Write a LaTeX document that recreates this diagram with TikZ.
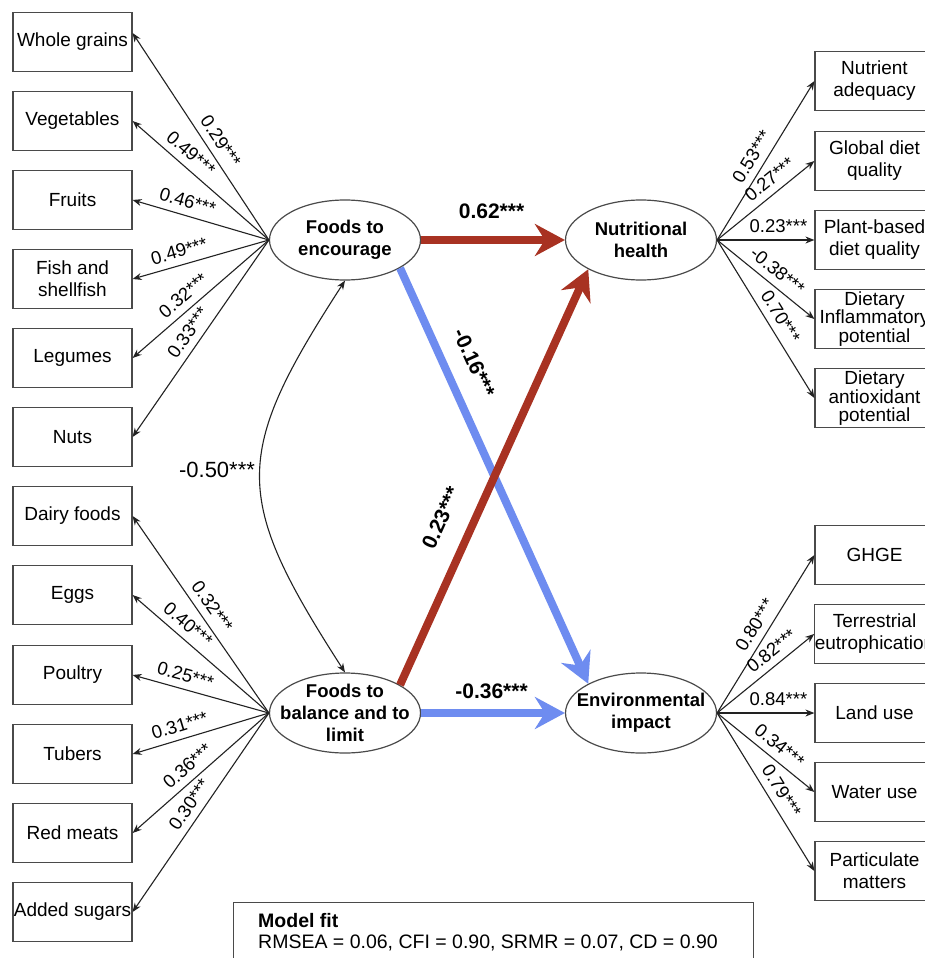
\documentclass[tikz,border=0pt]{standalone}
\usepackage{fontspec}
\setmainfont{Liberation Sans}
\usetikzlibrary{arrows.meta,shapes.geometric}
\definecolor{pathred}{HTML}{A83222}
\definecolor{pathblue}{HTML}{6E8CF0}
\definecolor{edgegray}{HTML}{222222}
\definecolor{boxgray}{HTML}{4A4A4A}
\begin{document}
\begin{tikzpicture}[x=1pt,y=-1pt,
  obs/.style={draw=boxgray, line width=1.2pt, rectangle, minimum width=119pt, minimum height=59pt, inner sep=0pt, align=center, font=\fontsize{19}{22}\selectfont},
  tightobs/.style={obs, font=\fontsize{19}{17.5}\selectfont},
  lat/.style={draw=boxgray, line width=1.2pt, ellipse, minimum width=151pt, minimum height=80pt, inner sep=0pt},
  lattext/.style={align=center, font=\bfseries\fontsize{18.5}{22}\selectfont, inner sep=0pt},
  load/.style={draw=edgegray, line width=1.1pt, -{Stealth[length=9pt,width=7pt]}},
  coef/.style={font=\fontsize{18.5}{20}\selectfont, sloped, above=7pt, inner sep=0pt},
  big/.style={line width=8pt, -{Stealth[length=30pt,width=32pt,inset=10pt]}},
  bigcoef/.style={font=\bfseries\fontsize{21}{24}\selectfont, inner sep=0pt},
]
\useasboundingbox (0,0) rectangle (925,958);
\clip (0,0) rectangle (925,958);
\fill[white] (0,0) rectangle (925,958);

% left observed boxes
\node[obs] (wg) at (72.5,42) {Whole grains};
\node[obs] (veg) at (72.5,121) {Vegetables};
\node[obs] (fru) at (72.5,200) {Fruits};
\node[obs] (fish) at (72.5,279) {Fish and\\shellfish};
\node[obs] (leg) at (72.5,358) {Legumes};
\node[obs] (nuts) at (72.5,437) {Nuts};
\node[obs] (dairy) at (72.5,516) {Dairy foods};
\node[obs] (eggs) at (72.5,595) {Eggs};
\node[obs] (poul) at (72.5,675) {Poultry};
\node[obs] (tub) at (72.5,754) {Tubers};
\node[obs] (red) at (72.5,833) {Red meats};
\node[obs] (sug) at (72.5,912) {Added sugars};

% right observed boxes
\node[obs] (nutr) at (874.5,81) {Nutrient\\adequacy};
\node[obs] (glob) at (874.5,161) {Global diet\\quality};
\node[obs] (plant) at (874.5,240) {Plant-based\\diet quality};
\node[tightobs] (infl) at (874.5,319) {Dietary\\Inflammatory\\potential};
\node[tightobs] (anti) at (874.5,398) {Dietary\\antioxidant\\potential};
\node[obs] (ghge) at (874.5,555) {GHGE};
\node[obs] (terr) at (874.5,634) {Terrestrial\\eutrophication};
\node[obs] (land) at (874.5,713) {Land use};
\node[obs] (water) at (874.5,792) {Water use};
\node[obs] (part) at (874.5,871) {Particulate\\matters};

% latent ellipses
\node[lat] (enc) at (345,240) {};
\node[lattext] (enct) at (enc.center) {Foods to\\encourage};
\node[lat] (bal) at (345,713) {};
\node[lattext] (balt) at (bal.center) {Foods to\\balance and to\\limit};
\node[lat] (nut) at (641,240) {};
\node[lattext] (nutt) at (nut.center) {Nutritional\\health};
\node[lat] (env) at (641,713) {};
\node[lattext] (envt) at (env.center) {Environmental\\impact};

% loadings: foods to encourage
\draw[load] (enc.west) -- node[coef,pos=0.44]{0.29***} ([yshift=9pt]wg.east);
\draw[load] (enc.west) -- node[coef,pos=0.64]{0.49***} (veg.east);
\draw[load] (enc.west) -- node[coef,pos=0.625]{0.46***} (fru.east);
\draw[load] (enc.west) -- node[coef,pos=0.63]{0.49***} (fish.east);
\draw[load] (enc.west) -- node[coef,pos=0.56]{0.32***} (leg.east);
\draw[load] (enc.west) -- node[coef,pos=0.51]{0.33***} (nuts.east);

% loadings: foods to balance and to limit
\draw[load] (bal.west) -- node[coef,pos=0.50]{0.32***} (dairy.east);
\draw[load] (bal.west) -- node[coef,pos=0.66]{0.40***} (eggs.east);
\draw[load] (bal.west) -- node[coef,pos=0.64]{0.25***} (poul.east);
\draw[load] (bal.west) -- node[coef,pos=0.625]{0.31***} (tub.east);
\draw[load] (bal.west) -- node[coef,pos=0.53]{0.36***} (red.east);
\draw[load] (bal.west) -- node[coef,pos=0.50]{0.30***} (sug.east);

% loadings: nutritional health
\draw[load] (nut.east) -- node[coef,pos=0.48]{0.53***} (nutr.west);
\draw[load] (nut.east) -- node[coef,pos=0.63]{0.27***} (glob.west);
\draw[load] (nut.east) -- node[coef,pos=0.63]{0.23***} (plant.west);
\draw[load] (nut.east) -- node[coef,pos=0.53]{-0.38***} (infl.west);
\draw[load] (nut.east) -- node[coef,pos=0.53]{0.70***} (anti.west);

% loadings: environmental impact
\draw[load] (env.east) -- node[coef,pos=0.51]{0.80***} (ghge.west);
\draw[load] (env.east) -- node[coef,pos=0.65]{0.82***} (terr.west);
\draw[load] (env.east) -- node[coef,pos=0.63]{0.84***} (land.west);
\draw[load] (env.east) -- node[coef,pos=0.55]{0.34***} (water.west);
\draw[load] (env.east) -- node[coef,pos=0.54]{0.79***} (part.west);

% correlation
\draw[draw=edgegray, line width=1.1pt, {Stealth[length=9pt,width=7pt]}-{Stealth[length=9pt,width=7pt]}]
  (enc.south) .. controls (232,455) and (232,497) .. (bal.north);
\node[font=\fontsize{22}{24}\selectfont, inner sep=0pt] (corr) at (217,470) {-0.50***};

% structural paths
\draw[big, draw=pathblue, fill=pathblue] (enc.-27) -- node[bigcoef, sloped, above=17pt, pos=0.256]{-0.16***} (env.151);
\draw[big, draw=pathred, fill=pathred] (bal.27) -- node[bigcoef, sloped, above=20pt, pos=0.37]{0.23***} (nut.209);
\draw[big, draw=pathred, fill=pathred] (enc.east) -- node[bigcoef, above=17.5pt, pos=0.49]{0.62***} (nut.west);
\draw[big, draw=pathblue, fill=pathblue] (bal.east) -- node[bigcoef, above=10.5pt, pos=0.49]{-0.36***} (env.west);

% model fit box
\node[draw=boxgray, line width=1.2pt, rectangle, minimum width=520pt, minimum height=80pt, anchor=north west, inner sep=0pt] (fitbox) at (233,902) {};
\node[anchor=base west, inner sep=0pt, font=\bfseries\fontsize{19.5}{22}\selectfont] (fittitle) at (258,927) {Model fit};
\node[anchor=base west, inner sep=0pt, font=\fontsize{19.5}{22}\selectfont] (fitvals) at (258,948) {RMSEA = 0.06, CFI = 0.90, SRMR = 0.07, CD = 0.90};
\end{tikzpicture}
\end{document}
